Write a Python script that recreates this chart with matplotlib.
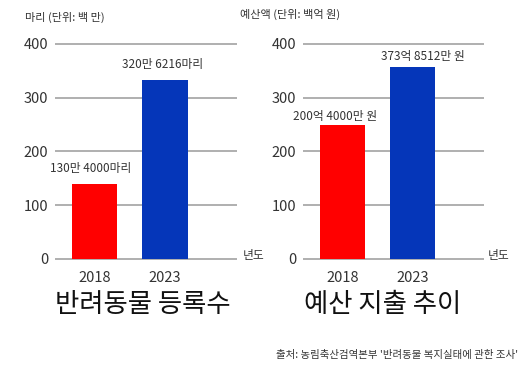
import matplotlib
matplotlib.use("Agg")
import matplotlib.pyplot as plt

plt.rcParams['font.family'] = ['Noto Sans CJK KR', 'DejaVu Sans']

W, H = 530, 366

years = ["2018", "2023"]
pets_values = [140, 333]
pets_labels = ["130만 4000마리", "320만 6216마리"]
budget_values = [249, 357]
budget_labels = ["200억 4000만 원", "373억 8512만 원"]
yticks = [0, 100, 200, 300, 400]
bar_colors = ["#ff0000", "#0536b9"]

fig = plt.figure(figsize=(W / 100, H / 100), dpi=100)
fig.patch.set_facecolor("white")

px_per_unit = (259 - 44) / 400.0
ylo, yhi = -6, 420


def make_axes(x0, x1):
    bottom_px = 259 + (0 - ylo) * px_per_unit
    top_px = 259 - yhi * px_per_unit
    ax = fig.add_axes([x0 / W, 1 - bottom_px / H, (x1 - x0) / W, (bottom_px - top_px) / H])
    return ax


def draw(ax, values, labels, offsets, unit_x):
    x = list(range(len(values)))
    ax.bar(x, values, width=0.64, color=bar_colors, zorder=3)
    ax.set_xlim(-0.56, 2.02)
    ax.set_ylim(ylo, yhi)
    for t in yticks:
        ax.axhline(t, color="#9a9a9a", lw=1.1, zorder=1)
    ax.set_yticks(yticks)
    ax.set_yticklabels([str(t) for t in yticks], fontsize=10.5, color="#333333")
    ax.set_xticks(x)
    ax.set_xticklabels(years, fontsize=10.5, color="#333333")
    ax.tick_params(axis="y", length=0, pad=5)
    ax.tick_params(axis="x", length=0, pad=6)
    for s in ax.spines.values():
        s.set_visible(False)
    ax.patch.set_alpha(0)
    for xi, v, lab, (dx, dy) in zip(x, values, labels, offsets):
        ax.annotate(lab, (xi, v), xytext=(dx, dy), textcoords="offset pixels",
                    ha="center", va="center", fontsize=8.5, color="#333333")
    ax.text(unit_x, 6, "년도", transform=ax.get_yaxis_transform(),
            ha="left", va="center", fontsize=8.5, color="#333333")


ax1 = make_axes(55, 237)
draw(ax1, pets_values, pets_labels, [(-4, 15), (-2, 16)], 1.03)

ax2 = make_axes(303, 484)
draw(ax2, budget_values, budget_labels, [(-7, 9), (10, 11)], 1.02)

fig.text(25 / W, 1 - 17 / H, "마리 (단위: 백 만)", ha="left", va="center",
         fontsize=8, color="#333333", fontweight="medium")
fig.text(240 / W, 1 - 14 / H, "예산액 (단위: 백억 원)", ha="left", va="center",
         fontsize=8, color="#333333", fontweight="medium")

fig.text(143 / W, 1 - 305 / H, "반려동물 등록수", ha="center", va="center",
         fontsize=19, color="#111111", fontweight="light")
fig.text(383 / W, 1 - 305 / H, "예산 지출 추이", ha="center", va="center",
         fontsize=19, color="#111111", fontweight="light")

fig.text(518 / W, 1 - 355 / H, "출처: 농림축산검역본부 '반려동물 복지실태에 관한 조사'",
         ha="right", va="center", fontsize=7.5, color="#333333", fontweight="medium")

fig.savefig("out.png", dpi=100, facecolor="white")
